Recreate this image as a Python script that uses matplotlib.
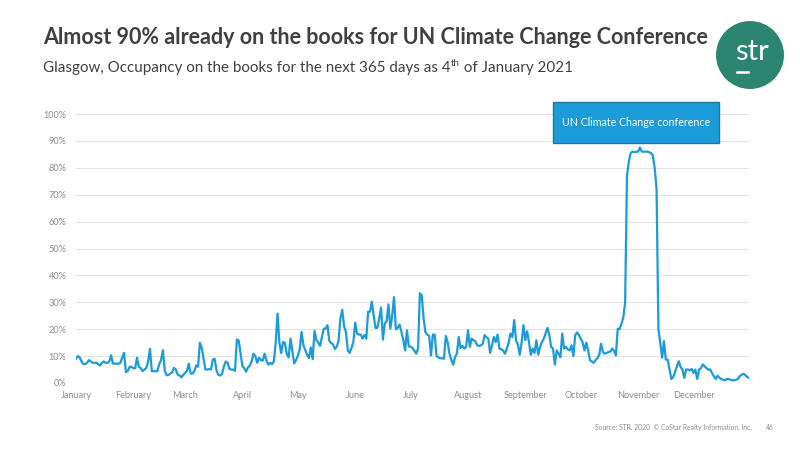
import matplotlib
matplotlib.use("Agg")
import matplotlib.pyplot as plt
from matplotlib.patches import Rectangle, Ellipse
from matplotlib.lines import Line2D

# ---- data: daily occupancy on the books (%) ----
jan = [9, 10, 9.5, 8, 7, 7, 7.5, 8.5, 8, 7.5, 7.5, 7.5, 7, 6.5, 7.5, 8, 7.5, 7.5, 8, 10.3,
       7.2, 7.2, 7.2, 7.2, 7.5, 9.5, 11.2, 4, 4.5, 6, 6]
feb = [5.5, 5.5, 9.4, 6, 5.5, 4.4, 5, 5.6, 8, 12.7, 4.4, 4.4, 4.4, 4.4, 7, 8.5, 12.2, 4.6,
       2.9, 3, 3.5, 4, 5.6, 5, 3.1, 2.8, 2.1, 3]
mar = [3.7, 4.5, 7.2, 3.5, 3.5, 4.4, 6.5, 6, 15, 13, 9, 5, 5, 5.2, 5, 8.7, 9, 4.6, 3, 2.8,
       3.4, 6.2, 8, 7.5, 5.2, 5, 5, 4.5, 16.2, 15.8, 11]
apr = [6.2, 5.5, 4.2, 5.8, 6.5, 8, 10.9, 10, 7.5, 9.4, 8.5, 8.3, 10.9, 8.5, 6.8, 7.5, 7, 8,
       15, 25.8, 15, 11.1, 15.3, 14.8, 10.7, 9.5, 16.5, 12, 7.3, 8.5]
may = [10.1, 12.6, 19, 14, 12.3, 10.5, 9.3, 13.2, 8.9, 19.4, 16, 15, 13.8, 17, 20.2, 20.2,
       21.5, 15.7, 14.8, 14.4, 12.6, 13.5, 15.7, 24, 27.2, 21, 19, 12.1, 11.2, 13, 15.2]
jun = [22.4, 18.4, 18, 18, 16.5, 17.8, 16.5, 26.5, 26.5, 30.2, 25, 20.5, 20.5, 24, 28, 16.1,
       22.1, 23, 29.2, 20.2, 25, 31.9, 20, 20.5, 21.7, 19, 16, 12.1, 19.6, 13.6]
jul = [13.5, 13, 12, 10.9, 12.8, 33.4, 32.5, 24, 18.8, 18, 17.5, 10.2, 18, 18, 10, 9.5, 9.2,
       9.2, 9, 17.5, 15.2, 10.9, 8.5, 6.8, 9.6, 10.9, 17.1, 13, 13.8, 12.8, 13.4]
aug = [19.6, 13.4, 16.5, 15.9, 15.5, 14, 13.8, 14, 14.5, 17.8, 17, 16.5, 11.2, 14, 17.1,
       15.2, 18, 12.8, 12.5, 12.1, 10.9, 12.8, 15, 18.4, 17.1, 23.4, 15.9, 14.2, 10.5, 15, 21.5]
sep = [15.9, 19.2, 15.2, 10.5, 12.8, 11.2, 15.9, 10.5, 13.4, 15.2, 16.5, 18.5, 20.5, 17.8,
       13.4, 12.8, 6.8, 12.1, 10.9, 9.6, 18.4, 12.8, 13.4, 12.5, 12.1, 14, 10, 17.8, 18.8, 17.8]
oct_ = [16.5, 15.2, 12.1, 15, 12.1, 8.4, 8, 7.5, 8.5, 9.2, 10.5, 14.6, 11.5, 10.9, 11.2, 11.5,
        11.7, 12.8, 12, 10.2, 20.2, 20, 22, 24.3, 30, 77, 82.3, 85.5, 86, 85.8, 86]
nov = [86, 87.5, 86, 86, 86, 86, 85.8, 85.5, 84.5, 80, 72, 20, 15, 9.4, 15.6, 8.7, 8.7, 5,
       1.5, 2.2, 4, 6.2, 8.1, 6, 5, 1.9, 5, 5, 4.7, 5.2]
dec = [3.7, 5, 1.5, 5, 5.5, 6.9, 6.2, 5.5, 5, 5, 3.7, 2.5, 1.5, 2.7, 2, 1.5, 1.2, 1, 1.5,
       1.5, 1.2, 1, 1, 1.2, 1.5, 2.5, 3.1, 3.4, 3, 2.2, 1.9]

month_names = ["January", "February", "March", "April", "May", "June", "July",
               "August", "September", "October", "November", "December"]
month_data = [jan, feb, mar, apr, may, jun, jul, aug, sep, oct_, nov, dec]
y_ticks = [0, 10, 20, 30, 40, 50, 60, 70, 80, 90, 100]

title = "Almost 90% already on the books for UN Climate Change Conference"
subtitle_a = "Glasgow, Occupancy on the books for the next 365 days as 4"
subtitle_sup = "th"
subtitle_b = " of January 2021"
annotation = "UN Climate Change conference"
source = "Source: STR. 2020  \u00a9 CoStar Realty Information, Inc."
page = "46"

occupancy = [v for m in month_data for v in m]
days = list(range(len(occupancy)))
month_starts = []
acc = 0
for m in month_data:
    month_starts.append(acc)
    acc += len(m)

plt.rcParams['font.family'] = ['Lato', 'DejaVu Sans']

W, H = 800, 450
fig = plt.figure(figsize=(8, 4.5), dpi=100)
fig.patch.set_facecolor('white')

def fx(px):
    return px / W

def fy(py):
    return 1 - py / H

ax = fig.add_axes([fx(76), fy(383), fx(749 - 76), (383 - 114) / H])
ax.plot(days, occupancy, color='#1b9bd7', lw=1.6, solid_joinstyle='round')
ax.set_xlim(0, len(occupancy) - 1)
ax.set_ylim(0, 100)
ax.set_yticks(y_ticks)
ax.set_yticklabels([f"{t}%" for t in y_ticks])
ax.set_xticks(month_starts)
ax.set_xticklabels(month_names)
ax.grid(axis='y', color='#e3e3e3', lw=0.8)
ax.set_axisbelow(True)
for s in ax.spines.values():
    s.set_visible(False)
ax.tick_params(axis='both', length=0, colors='#8c8c8c', labelsize=6.6)
ax.tick_params(axis='y', pad=7)
ax.tick_params(axis='x', pad=6)

# Title / subtitle
fig.text(fx(43), fy(38), title, fontsize=15.5, fontweight='bold', color='#404040',
         va='center', ha='left')
fig.canvas.draw()
r = fig.canvas.get_renderer()
t1 = fig.text(fx(43), fy(68), subtitle_a, fontsize=10.9, color='#404040', va='center', ha='left')
bb = t1.get_window_extent(renderer=r)
t2 = fig.text(bb.x1 / W, fy(63), subtitle_sup, fontsize=7, color='#404040', va='center', ha='left')
bb2 = t2.get_window_extent(renderer=r)
fig.text(bb2.x1 / W, fy(68), subtitle_b, fontsize=10.9, color='#404040', va='center', ha='left')

# Logo
fig.add_artist(Ellipse((fx(750), fy(55)), 68 / W, 68 / H, transform=fig.transFigure,
                       facecolor='#2b8571', edgecolor='none'))
fig.text(fx(752), fy(52), "str", fontsize=21, color='white', ha='center', va='center')
fig.add_artist(Line2D([fx(737), fx(748)], [fy(72), fy(72)], transform=fig.transFigure,
                      color='white', lw=1.8))

# Annotation box
fig.add_artist(Rectangle((fx(553), fy(143)), fx(719 - 553), (143 - 102) / H,
                         transform=fig.transFigure, facecolor='#1b9bd7',
                         edgecolor='#1a78a8', lw=1.0))
fig.text(fx(636), fy(123), annotation, fontsize=7.7, color='white', ha='center', va='center')

# Footer
fig.text(fx(752), fy(427), source, fontsize=4.9, color='#8c8c8c', ha='right', va='center')
fig.text(fx(766), fy(427), page, fontsize=4.9, color='#8c8c8c', ha='left', va='center')

fig.savefig("out.png", dpi=100)
